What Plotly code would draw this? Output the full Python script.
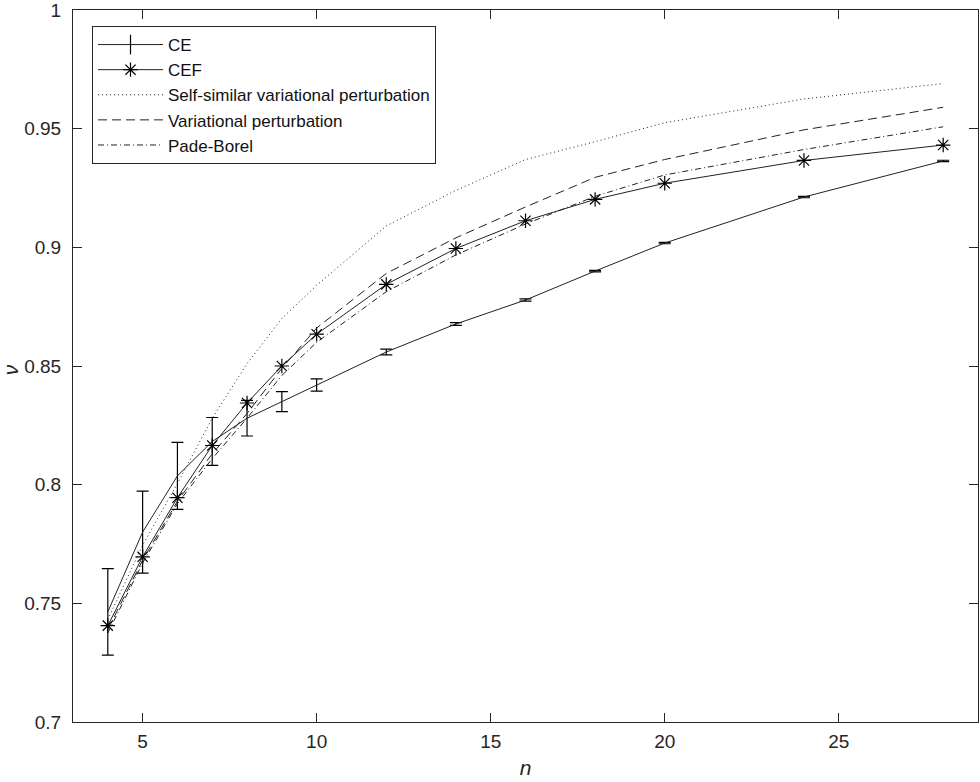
import plotly.graph_objects as go

n_vals = [4, 5, 6, 7, 8, 9, 10, 12, 14, 16, 18, 20, 24, 28]

ce_vals = [0.7464, 0.7800, 0.8037, 0.8182, 0.8280, 0.8350, 0.8420, 0.8559,
           0.8677, 0.8778, 0.8900, 0.9018, 0.9212, 0.9364]
ce_err = [0.0182, 0.0173, 0.0141, 0.0101, 0.0075, 0.0042, 0.0026, 0.0012,
          0.0006, 0.0005, 0.0003, 0.0003, 0.0003, 0.0003]

cef_vals = [0.7406, 0.7696, 0.7945, 0.8165, 0.8344, 0.8500, 0.8634, 0.8844,
            0.8995, 0.9112, 0.9202, 0.9270, 0.9366, 0.9431]

ssvp_vals = [0.7432, 0.7745, 0.8005, 0.8280, 0.8510, 0.8700, 0.8840, 0.9090,
             0.9240, 0.9370, 0.9445, 0.9525, 0.9625, 0.9690]

vp_vals = [0.7390, 0.7682, 0.7930, 0.8130, 0.8300, 0.8490, 0.8660, 0.8890,
           0.9040, 0.9170, 0.9295, 0.9370, 0.9495, 0.9590]

pb_vals = [0.7375, 0.7670, 0.7920, 0.8110, 0.8280, 0.8460, 0.8600, 0.8813,
           0.8968, 0.9098, 0.9215, 0.9305, 0.9412, 0.9508]

x_ticks = [5, 10, 15, 20, 25]
y_ticks = [0.7, 0.75, 0.8, 0.85, 0.9, 0.95, 1.0]
y_ticktext = ["0.7", "0.75", "0.8", "0.85", "0.9", "0.95", "1"]

FONT = "Liberation Sans, Arial, Helvetica, sans-serif"
LC = "#222222"

fig = go.Figure()

# CE data with error bars (legend entry drawn by a legend-only twin below)
fig.add_trace(go.Scatter(
    x=n_vals, y=ce_vals, name="CE", mode="lines", legendgroup="ce",
    showlegend=False,
    line=dict(color=LC, width=1),
    error_y=dict(type="data", array=ce_err, visible=True, color="black",
                 thickness=1.2, width=6),
))
fig.add_trace(go.Scatter(
    x=[None], y=[None], name="CE", mode="lines+markers", legendgroup="ce",
    line=dict(color=LC, width=1),
    marker=dict(symbol="line-ns-open", size=14, color="black",
                line=dict(color="black", width=1.2)),
))
fig.add_trace(go.Scatter(
    x=n_vals, y=cef_vals, name="CEF", mode="lines+markers",
    line=dict(color=LC, width=1),
    marker=dict(symbol="asterisk-open", size=12, color="black",
                line=dict(color="black", width=1.2)),
))
fig.add_trace(go.Scatter(
    x=n_vals, y=ssvp_vals, name="Self-similar variational perturbation",
    mode="lines", line=dict(color=LC, width=1, dash="1px,3px"),
))
fig.add_trace(go.Scatter(
    x=n_vals, y=vp_vals, name="Variational perturbation",
    mode="lines", line=dict(color=LC, width=1, dash="9px,5px"),
))
fig.add_trace(go.Scatter(
    x=n_vals, y=pb_vals, name="Pade-Borel",
    mode="lines", line=dict(color=LC, width=1, dash="6px,3px,1px,3px"),
))

axis_common = dict(
    showgrid=False, zeroline=False, showline=True, linecolor="#262626",
    linewidth=1, mirror="ticks", ticks="inside", ticklen=9, tickwidth=1,
    tickcolor="#262626", tickfont=dict(family=FONT, size=19, color="#262626"),
    automargin=False, ticklabeloverflow="allow",
)

fig.update_layout(
    width=980, height=782,
    margin=dict(l=73, r=2, t=10, b=60),
    paper_bgcolor="white", plot_bgcolor="white",
    font=dict(family=FONT, color="#262626"),
    showlegend=True,
    legend=dict(
        x=0.021, y=0.9775, xanchor="left", yanchor="top",
        bordercolor="#262626", borderwidth=1, bgcolor="white",
        font=dict(family=FONT, size=17, color="#111111"),
        tracegroupgap=0, itemwidth=65,
    ),
    xaxis=dict(range=[3, 29], tickvals=x_ticks, ticklabelstandoff=2,
               title=dict(text="<i>n</i>", font=dict(family=FONT, size=21),
                          standoff=9),
               **axis_common),
    yaxis=dict(range=[0.7, 1.0], tickvals=y_ticks, ticktext=y_ticktext,
               ticklabelstandoff=7,
               **axis_common),
    annotations=[dict(
        text="<i>ν</i>", xref="paper", yref="paper",
        x=-0.0696, y=0.494, xanchor="center", yanchor="middle",
        textangle=-90, showarrow=False,
        font=dict(family=FONT, size=21, color="#262626"),
    )],
)

fig.write_html("out.html",
               config={"displayModeBar": False},
               post_script="document.body.style.margin='0px';")
